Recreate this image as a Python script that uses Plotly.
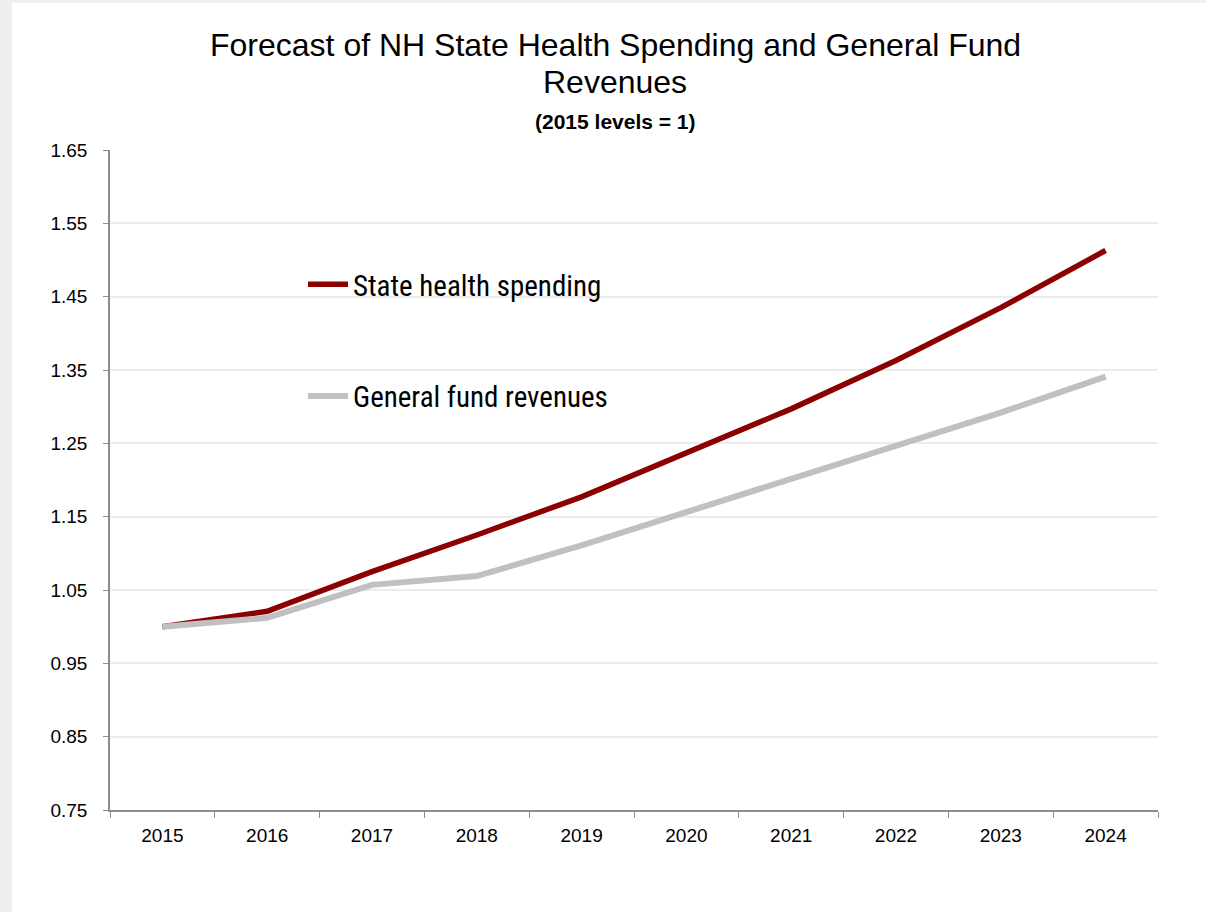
import plotly.graph_objects as go

years = ["2015", "2016", "2017", "2018", "2019", "2020", "2021", "2022", "2023", "2024"]
health_spending = [1.000, 1.021, 1.075, 1.125, 1.177, 1.237, 1.297, 1.363, 1.435, 1.513]
general_fund = [1.000, 1.012, 1.057, 1.069, 1.111, 1.156, 1.201, 1.245, 1.292, 1.341]
y_ticks = [0.75, 0.85, 0.95, 1.05, 1.15, 1.25, 1.35, 1.45, 1.55, 1.65]

W, H = 1206, 912
L, R, T, B = 110, 48, 150, 102
pw = W - L - R
ph = H - T - B


def px_x(x):
    """pixel column -> paper x"""
    return (x - L) / pw


def px_y(y):
    """pixel row -> paper y"""
    return (H - B - y) / ph


base_font = "Liberation Sans, Arial, sans-serif"
narrow_font = "Liberation Sans Narrow, Arial Narrow, Roboto Condensed, Liberation Sans, sans-serif"

fig = go.Figure()
fig.add_trace(go.Scatter(
    x=years, y=health_spending, mode="lines", name="State health spending",
    line=dict(color="#8b0000", width=5.5), legendgroup="a",
))
fig.add_trace(go.Scatter(
    x=years, y=general_fund, mode="lines", name="General fund revenues",
    line=dict(color="#c0c0c0", width=6), legendgroup="b",
))

# gray frame strips on the left and top of the page
fig.add_shape(type="rect", xref="paper", yref="paper",
              x0=px_x(0), x1=px_x(12), y0=px_y(H + 5), y1=px_y(-5),
              fillcolor="#efefef", line_width=0, layer="below")
fig.add_shape(type="rect", xref="paper", yref="paper",
              x0=px_x(0), x1=px_x(W), y0=px_y(3), y1=px_y(-5),
              fillcolor="#efefef", line_width=0, layer="below")

# white panel behind the legend, hiding the gridlines there
fig.add_shape(type="rect", xref="paper", yref="paper",
              x0=px_x(265), x1=px_x(660), y0=px_y(452), y1=px_y(234),
              fillcolor="white", line_width=0, layer="between")

fig.add_annotation(text="Forecast of NH State Health Spending and General Fund",
                   xref="paper", yref="paper", x=px_x(615), y=px_y(45),
                   showarrow=False, font=dict(family=base_font, size=32, color="#000"),
                   xanchor="center", yanchor="middle")
fig.add_annotation(text="Revenues",
                   xref="paper", yref="paper", x=px_x(615), y=px_y(82),
                   showarrow=False, font=dict(family=base_font, size=32, color="#000"),
                   xanchor="center", yanchor="middle")
fig.add_annotation(text="<b>(2015 levels = 1)</b>",
                   xref="paper", yref="paper", x=px_x(615), y=px_y(122),
                   showarrow=False, font=dict(family=base_font, size=21, color="#000"),
                   xanchor="center", yanchor="middle")

fig.update_layout(
    width=W, height=H,
    margin=dict(l=L, r=R, t=T, b=B),
    paper_bgcolor="white", plot_bgcolor="white",
    showlegend=True,
    legend=dict(
        x=px_x(303), y=px_y(259), xanchor="left", yanchor="top",
        bgcolor="rgba(0,0,0,0)", font=dict(family=narrow_font, size=29, color="#000"),
        tracegroupgap=71, itemwidth=40,
    ),
    xaxis=dict(
        type="category", tickson="boundaries", ticks="outside", ticklen=6,
        tickcolor="#8c8c8c", showline=True, linecolor="#8c8c8c", linewidth=1.5,
        showgrid=False, tickfont=dict(family=base_font, size=19, color="#000"),
        ticklabelstandoff=7, range=[-0.5, 9.5],
    ),
    yaxis=dict(
        range=[0.75, 1.65], tickvals=y_ticks, ticktext=[f"{v:.2f}" for v in y_ticks],
        ticks="outside", ticklen=5, tickcolor="#8c8c8c",
        showline=True, linecolor="#8c8c8c", linewidth=1.5,
        showgrid=True, gridcolor="#ececec", gridwidth=1.5, zeroline=False,
        tickfont=dict(family=base_font, size=19, color="#000"), ticklabelstandoff=12,
    ),
)

fig.write_html("out.html")
